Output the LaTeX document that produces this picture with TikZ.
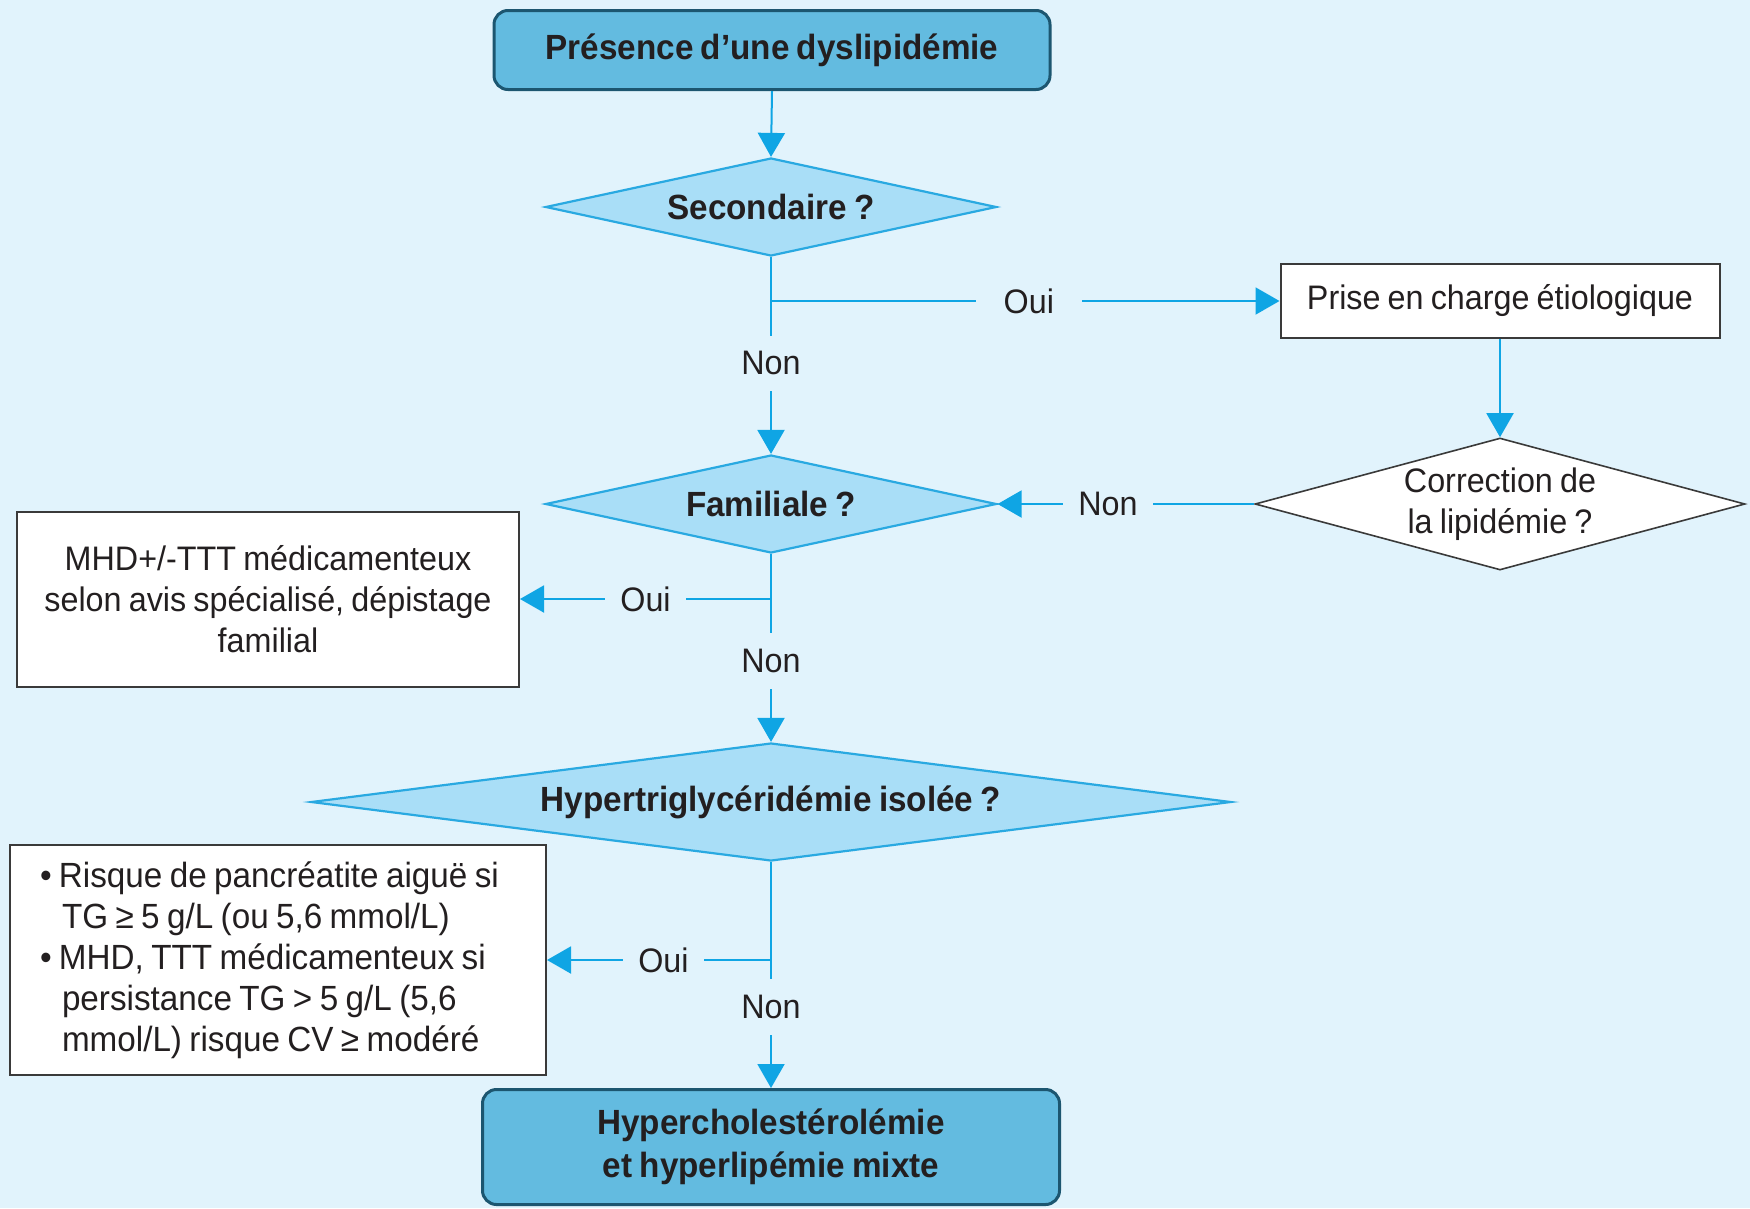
\documentclass[tikz,border=0pt]{standalone}
\usepackage{fontspec}
\setmainfont{Liberation Sans}[FakeStretch=0.95,WordSpace=0.8]
\usetikzlibrary{shapes.geometric,arrows.meta}
\definecolor{bg}{HTML}{E1F3FC}
\definecolor{tc}{HTML}{231F20}
\definecolor{startfill}{HTML}{63BBE0}
\definecolor{startdraw}{HTML}{1C5670}
\definecolor{diafill}{HTML}{A9DEF7}
\definecolor{diadraw}{HTML}{29A9E1}
\definecolor{ac}{HTML}{0FA5E4}
\definecolor{boxdraw}{HTML}{3A3A3A}
\begin{document}
\begin{tikzpicture}[x=1pt,y=-1pt,
  reg/.style={font=\fontsize{34}{41}\selectfont, text=tc},
  bld/.style={font=\fontsize{35}{43}\selectfont\bfseries, text=tc},
  startbox/.style={bld, rectangle, rounded corners=14pt, fill=startfill, draw=startdraw, line width=3pt, align=center, inner sep=0pt},
  dia/.style={bld, diamond, fill=diafill, draw=diadraw, line width=2.2pt, inner sep=0pt, align=center},
  wdia/.style={reg, diamond, fill=white, draw=boxdraw, line width=1.6pt, inner sep=0pt, align=center},
  plainbox/.style={reg, rectangle, fill=white, draw=boxdraw, line width=2pt, inner sep=0pt},
  conn/.style={draw=ac, line width=2pt, -{Triangle[length=24pt,width=27pt]}},
  lblv/.style={reg, fill=bg, inner xsep=2pt, inner ysep=16pt},
  lblh/.style={reg, fill=bg, inner xsep=28pt, inner ysep=2pt},
  lblhs/.style={reg, fill=bg, inner xsep=15pt, inner ysep=2pt}
]
\useasboundingbox (0,0) rectangle (1750,1208);
\fill[bg] (0,0) rectangle (1750,1208);

\node[startbox, minimum width=556pt, minimum height=79pt] (top) at (772,50) {Présence d’une dyslipidémie};
\node[dia, minimum width=451pt, minimum height=98pt, shape aspect=4.6] (sec) at (771,207) {Secondaire ?};
\node[plainbox, minimum width=439pt, minimum height=74pt] (prise) at (1500,301) {Prise en charge étiologique};
\node[wdia, minimum width=490pt, minimum height=132pt, shape aspect=3.71] (corr) at (1500,504) {Correction de\\la lipidémie ?};
\node[dia, minimum width=451pt, minimum height=98pt, shape aspect=4.6] (fam) at (771,504) {Familiale ?};
\node[plainbox, minimum width=502pt, minimum height=175pt, align=center] (mhd) at (268,599) {MHD+/-TTT médicamenteux\\selon avis spécialisé, dépistage\\familial};
\node[dia, minimum width=920pt, minimum height=118pt, shape aspect=7.8] (hyp) at (771,802) {Hypertriglycéridémie isolée ?};
\node[plainbox, font=\fontsize{35}{41}\selectfont, minimum width=536pt, minimum height=230pt, text width=476pt, inner xsep=30pt, align=left] (risk) at (278,960)
  {\spaceskip=0pt\xspaceskip=0pt\relax
   \mbox{\makebox[19pt][l]{•}Risque de pancréatite aiguë si}\\
   \mbox{\hspace*{22pt}TG ≥ 5 g/L (ou 5,6 mmol/L)}\\
   \mbox{\makebox[19pt][l]{•}MHD, TTT médicamenteux si}\\
   \mbox{\hspace*{22pt}persistance TG > 5 g/L (5,6}\\
   \mbox{\hspace*{22pt}mmol/L) risque CV ≥ modéré}};
\node[startbox, minimum width=577pt, minimum height=115pt] (end) at (771,1147) {Hypercholestérolémie\\et hyperlipémie mixte};

\coordinate (j1) at (sec.south |- prise.west);
\coordinate (j2) at (fam.south |- mhd.east);
\coordinate (j3) at (hyp.south |- risk.east);

\draw[conn] (top.south) -- (sec.north);
\draw[conn] (sec.south) -- node[lblv, pos=0.54] {Non} (fam.north);
\draw[conn] (j1) -- node[lblh, pos=0.507] {Oui} (prise.west);
\draw[conn] (prise.south) -- (corr.north);
\draw[conn] (corr.west) -- node[lblhs, pos=0.57] {Non} (fam.east);
\draw[conn] (j2) -- node[lblhs, pos=0.5] {Oui} (mhd.east);
\draw[conn] (fam.south) -- node[lblv, pos=0.57] {Non} (hyp.north);
\draw[conn] (j3) -- node[lblhs, pos=0.48] {Oui} (risk.east);
\draw[conn] (hyp.south) -- node[lblv, pos=0.64] {Non} (end.north);
\end{tikzpicture}
\end{document}
